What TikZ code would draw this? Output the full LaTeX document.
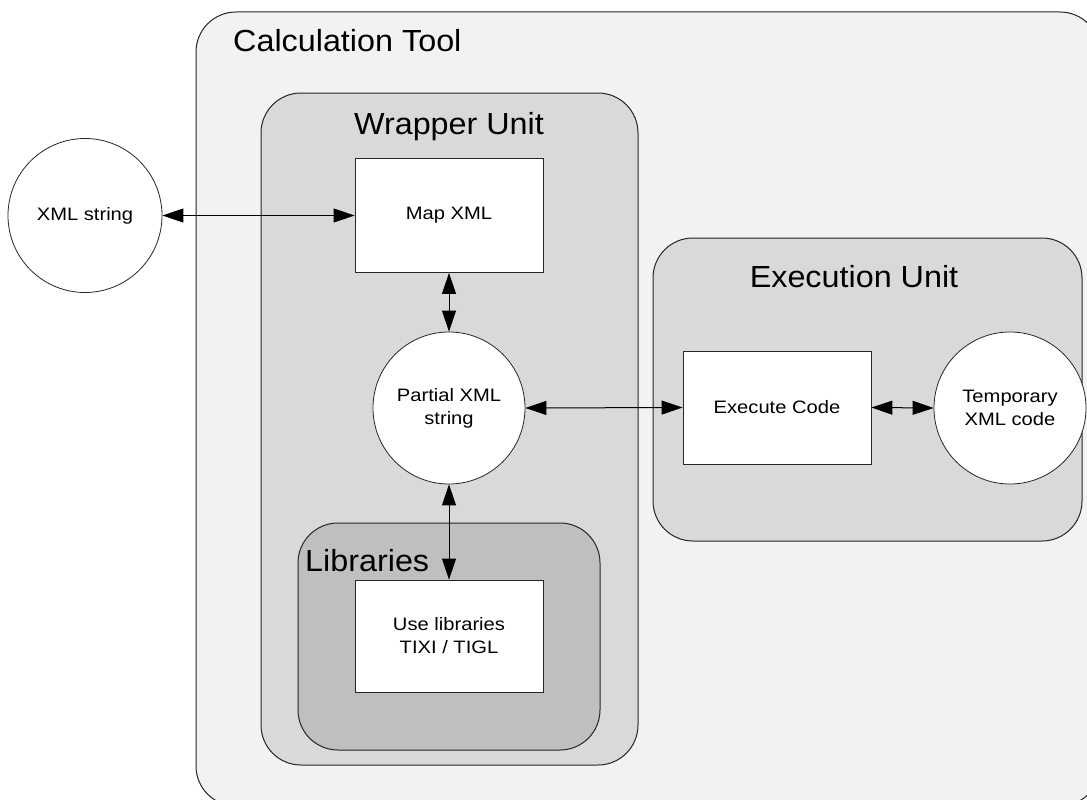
\documentclass[tikz,border=0pt]{standalone}
\usepackage{fontspec}
\setmainfont{Liberation Sans}
\newfontfamily\nodefont[FakeStretch=1.12]{Liberation Sans}
\newfontfamily\titlefont[FakeStretch=1.06]{Liberation Sans}
\usetikzlibrary{arrows.meta}
\definecolor{outerfill}{HTML}{F2F2F2}
\definecolor{wrapfill}{HTML}{D9D9D9}
\definecolor{libfill}{HTML}{BFBFBF}
\definecolor{edge}{HTML}{262626}
\tikzset{
  container/.style={draw=edge, line width=1pt, rounded corners=40pt, inner sep=0pt},
  procbox/.style={draw=edge, line width=0.8pt, fill=white, minimum width=188pt, minimum height=114pt, inner sep=0pt, font=\nodefont\fontsize{18pt}{23pt}\selectfont, align=center},
  datacirc/.style={draw=edge, line width=0.8pt, fill=white, circle, minimum size=152pt, inner sep=0pt, font=\nodefont\fontsize{18pt}{23pt}\selectfont, align=center},
  title/.style={font=\titlefont\fontsize{30.5pt}{36pt}\selectfont, inner sep=0pt},
  arr/.style={{Triangle[length=21pt,width=14pt]}-{Triangle[length=21pt,width=14pt]}, line width=1pt, black}
}
\begin{document}
\begin{tikzpicture}[x=1pt,y=-1pt]
\useasboundingbox (0,0) rectangle (1087,800);
\clip (0,0) rectangle (1087,800);
\fill[white] (0,0) rectangle (1087,800);
\node[container, fill=outerfill, minimum width=904pt, minimum height=794pt] (outer) at (648,409) {};
\node[container, fill=wrapfill, minimum width=377pt, minimum height=672pt] (wrapper) at (449.5,429) {};
\node[container, fill=libfill, minimum width=302pt, minimum height=227pt] (libs) at (449,636.5) {};
\node[container, fill=wrapfill, minimum width=429pt, minimum height=303pt] (execunit) at (867.5,389.5) {};

\node[title, anchor=west] (tcalc) at (233,41) {Calculation Tool};
\node[title] (twrap) at (449,127) {Wrapper Unit};
\node[title] (texec) at (854,277) {Execution Unit};
\node[title, anchor=west] (tlib) at (305,561) {Libraries};

\node[datacirc, minimum size=154pt] (xmlstr) at (85,215.5) {XML string};
\node[procbox] (map) at (449,215.5) {Map XML};
\node[datacirc] (partial) at (449,408) {Partial XML\\string};
\node[procbox, minimum height=112pt] (uselib) at (449,636) {Use libraries\\TIXI / TIGL};
\node[procbox, minimum height=113pt] (exec) at (777,407.5) {Execute Code};
\node[datacirc] (temp) at (1010,408) {Temporary\\XML code};

\draw[arr] (xmlstr.east) -- (map.west);
\draw[arr] (map.south) -- (partial.north);
\draw[arr] (partial.south) -- (uselib.north);
\draw[arr] (partial.east) -- (exec.west);
\draw[arr] (exec.east) -- (temp.west);
\end{tikzpicture}
\end{document}
